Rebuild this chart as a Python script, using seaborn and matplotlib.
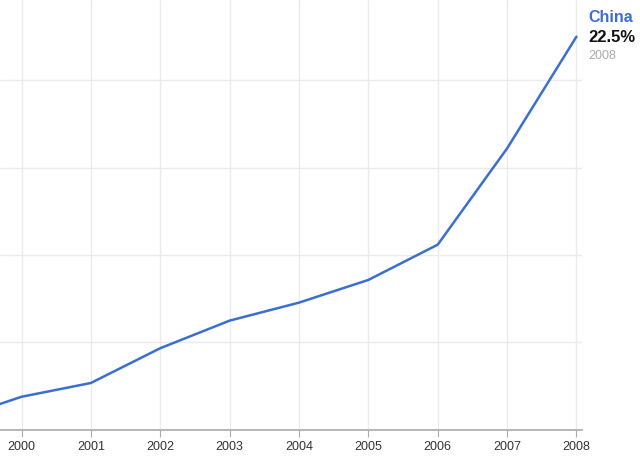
import numpy as np
import pandas as pd
import seaborn as sns
import matplotlib.pyplot as plt

# Daten (Anteil China, Prozent)
years = [1999, 2000, 2001, 2002, 2003, 2004, 2005, 2006, 2007, 2008]
share = [0.55, 1.88, 2.67, 4.66, 6.24, 7.27, 8.57, 10.59, 16.1, 22.5]
series_name = "China"
last_label = "22.5%"
year_ticks = [2000, 2001, 2002, 2003, 2004, 2005, 2006, 2007, 2008]

df = pd.DataFrame({"year": years, "share": share})

sns.set_style("white")
plt.rcParams['font.family'] = ['Liberation Sans', 'DejaVu Sans']

fig = plt.figure(figsize=(6.4, 4.68), dpi=100)
ax = fig.add_axes([0.0, 1 - 429.6 / 468, 582 / 640, 429.6 / 468])

sns.lineplot(data=df, x="year", y="share", color="#3a6fd0", linewidth=1.8, ax=ax)

ax.set_xlim(1999.69, 2008.08)
ax.set_ylim(0, 24.6)
ax.set_xticks(year_ticks)
ax.set_xticklabels([str(y) for y in year_ticks], fontsize=9, color="#333333")
ax.set_yticks([0, 5, 10, 15, 20])
ax.set_yticklabels([])
ax.grid(True, color="#ebebeb", linewidth=1)
ax.set_axisbelow(True)
ax.tick_params(axis="x", length=5, color="#aaaaaa", pad=3, bottom=True)
ax.tick_params(axis="y", length=0)
ax.set_xlabel("")
ax.set_ylabel("")
for s in ["left", "right", "top"]:
    ax.spines[s].set_visible(False)
ax.spines["bottom"].set_color("#aaaaaa")
ax.spines["bottom"].set_linewidth(1.2)

# Beschriftung rechts oben
fig.text(588 / 640, 1 - 18 / 468, series_name, color="#3a6fd0", fontsize=11.5,
         fontweight="bold", va="center", ha="left")
fig.text(588 / 640, 1 - 37 / 468, last_label, color="#111111", fontsize=12,
         fontweight="bold", va="center", ha="left")
fig.text(588 / 640, 1 - 56 / 468, str(years[-1]), color="#aaaaaa", fontsize=9,
         va="center", ha="left")

fig.savefig("out.png", dpi=100)
